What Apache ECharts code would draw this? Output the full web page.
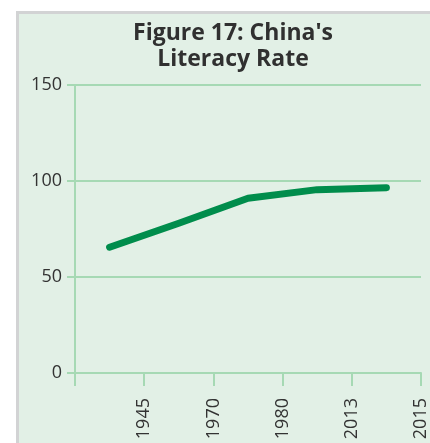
<!DOCTYPE html>
<html>
<head>
<meta charset="utf-8">
<script src="https://cdn.jsdelivr.net/npm/echarts@6/dist/echarts.min.js"></script>
<style>
  html, body { margin: 0; padding: 0; background: #ffffff; }
  #chart { width: 430px; height: 443px; }
</style>
</head>
<body>
<div id="chart"></div>
<script>
// Literacy rate (%) by period, one point per category band
const categories = ['1945', '1970', '1980', '2013', '2015'];
const literacyRate = [65.5, 78.0, 91.0, 95.5, 96.5];
// Tick labels sit on the band boundaries (first boundary is unlabeled)
const tickLabels = [''].concat(categories);
const yTicks = { min: 0, max: 150, interval: 50 };

const gridColor = '#a6d9b4';
const textColor = '#333333';
const fontFamily = '"Open Sans", "Noto Sans", sans-serif';

const chart = echarts.init(document.getElementById('chart'), null, { renderer: 'canvas' });

chart.setOption({
  backgroundColor: '#ffffff',
  animation: false,
  graphic: [
    { type: 'rect', z: -20, shape: { x: 16, y: 11, width: 420, height: 440 }, style: { fill: '#d2d3d4' } },
    { type: 'rect', z: -19, shape: { x: 19, y: 14, width: 420, height: 440 }, style: { fill: '#e2f0e6' } }
  ],
  title: {
    text: "Figure 17: China's\nLiteracy Rate",
    left: 228,
    top: 15,
    textAlign: 'center',
    textStyle: {
      fontFamily: fontFamily,
      fontWeight: 'bold',
      fontSize: 23,
      lineHeight: 26,
      color: '#303030'
    }
  },
  grid: { left: 75, right: 9, top: 85, bottom: 70, containLabel: false },
  xAxis: [
    {
      type: 'category',
      data: categories,
      boundaryGap: true,
      axisLine: { show: true, lineStyle: { color: gridColor, width: 2 } },
      axisTick: { show: false },
      axisLabel: { show: false },
      splitLine: { show: false }
    },
    {
      type: 'category',
      data: tickLabels,
      boundaryGap: false,
      position: 'bottom',
      axisLine: { show: false },
      axisTick: { show: true, length: 13, lineStyle: { color: gridColor, width: 2 } },
      axisLabel: {
        rotate: 90,
        margin: 25,
        interval: 0,
        fontFamily: fontFamily,
        fontSize: 18,
        color: textColor
      },
      splitLine: { show: false }
    }
  ],
  yAxis: {
    type: 'value',
    min: yTicks.min,
    max: yTicks.max,
    interval: yTicks.interval,
    axisLine: { show: true, lineStyle: { color: gridColor, width: 2 } },
    axisTick: { show: true, length: 8, lineStyle: { color: gridColor, width: 2 } },
    axisLabel: { margin: 13, fontFamily: fontFamily, fontSize: 18, color: textColor },
    splitLine: { show: true, lineStyle: { color: gridColor, width: 2 } }
  },
  series: [
    {
      type: 'line',
      xAxisIndex: 0,
      data: literacyRate,
      showSymbol: false,
      symbol: 'none',
      lineStyle: { color: '#008d4c', width: 7, cap: 'round', join: 'round' }
    }
  ]
});
</script>
</body>
</html>
